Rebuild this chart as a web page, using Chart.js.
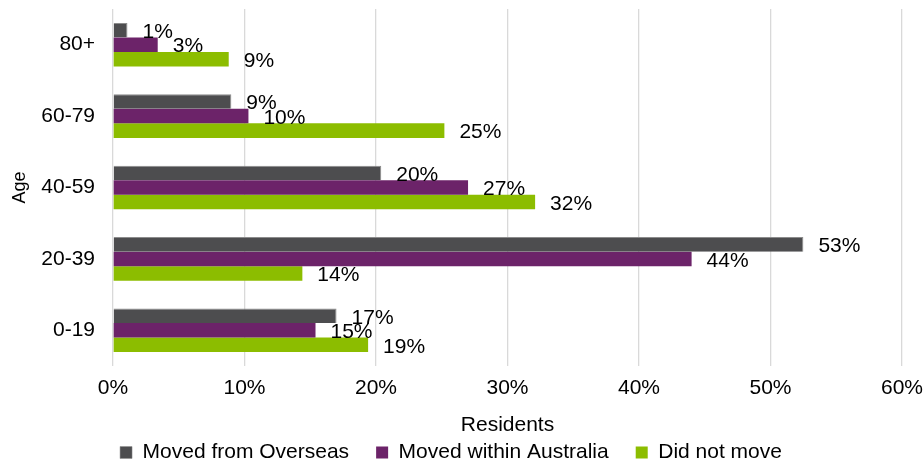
<!DOCTYPE html>
<html>
<head>
<meta charset="utf-8">
<script src="https://cdn.jsdelivr.net/npm/chart.js@4"></script>
<style>
  html, body { margin: 0; padding: 0; background: #fff; }
  #wrap { width: 924px; height: 465px; }
</style>
</head>
<body>
<div id="wrap"><canvas id="chart1"></canvas></div>
<script>
// Age groups, top to bottom
const ages = ['80+', '60-79', '40-59', '20-39', '0-19'];

// Share of residents in each age group (%)
const movedOverseas = [1.1, 9.0, 20.4, 52.5, 17.0];
const movedAustralia = [3.4, 10.3, 27.0, 44.0, 15.4];
const didNotMove = [8.8, 25.2, 32.1, 14.4, 19.4];

const xTicks = [0, 10, 20, 30, 40, 50, 60];

const FONT = 'Liberation Sans, Arial, sans-serif';

// Value labels at the end of each bar
const barLabels = {
  id: 'barLabels',
  afterDatasetsDraw(chart) {
    const ctx = chart.ctx;
    ctx.save();
    ctx.font = '21px ' + FONT;
    ctx.fillStyle = '#000';
    ctx.textAlign = 'left';
    ctx.textBaseline = 'middle';
    chart.data.datasets.forEach((ds, i) => {
      chart.getDatasetMeta(i).data.forEach((bar, j) => {
        ctx.fillText(Math.round(ds.data[j]) + '%', bar.x + 15, bar.y + 2);
      });
    });
    ctx.restore();
  },
};

var ctx = document.getElementById('chart1').getContext('2d');
var chart = new Chart(ctx, {
  type: 'bar',
  data: {
    labels: ages,
    datasets: [
      {
        label: 'Moved from Overseas',
        backgroundColor: '#4d4d4f',
        borderColor: '#8c8c8c',
        borderWidth: { top: 1, right: 1, bottom: 0, left: 0 },
        data: movedOverseas,
      },
      {
        label: 'Moved within Australia',
        backgroundColor: '#6c2369',
        data: movedAustralia,
      },
      {
        label: 'Did not move',
        backgroundColor: '#8cbd00',
        data: didNotMove,
      },
    ],
  },
  options: {
    indexAxis: 'y',
    responsive: true,
    maintainAspectRatio: false,
    animation: false,
    categoryPercentage: 0.61,
    barPercentage: 1.0,
    layout: { padding: { top: 9, right: 22, left: 0, bottom: 0 } },
    scales: {
      x: {
        min: 0,
        max: 60,
        afterBuildTicks: scale => {
          scale.ticks = xTicks.map(v => ({ value: v }));
        },
        afterFit: scale => {
          scale.height = 49;
          scale.paddingLeft = 0;
          scale.paddingRight = 0;
        },
        grid: { color: '#d9d9d9', lineWidth: 1.3, drawTicks: false },
        border: { display: false },
        ticks: {
          padding: 10,
          color: '#000',
          font: { family: FONT, size: 21 },
          callback: v => v + '%',
        },
        title: {
          display: true,
          text: 'Residents',
          color: '#000',
          padding: { top: 0, bottom: -23 },
          font: { family: FONT, size: 21 },
        },
      },
      y: {
        afterFit: scale => {
          scale.width = 113;
          scale.paddingTop = 0;
          scale.paddingBottom = 0;
        },
        grid: { display: false, drawTicks: false },
        border: { display: false },
        ticks: {
          padding: 18,
          color: '#000',
          font: { family: FONT, size: 21 },
        },
        title: {
          display: true,
          text: 'Age',
          color: '#000',
          padding: { top: 9, bottom: 0 },
          font: { family: FONT, size: 18 },
        },
      },
    },
    plugins: {
      legend: {
        position: 'bottom',
        maxHeight: 50,
        labels: {
          boxWidth: 12,
          boxHeight: 12,
          padding: 27,
          color: '#000',
          font: { family: FONT, size: 21 },
        },
      },
      tooltip: { enabled: false },
    },
  },
  plugins: [barLabels],
});
</script>
</body>
</html>
